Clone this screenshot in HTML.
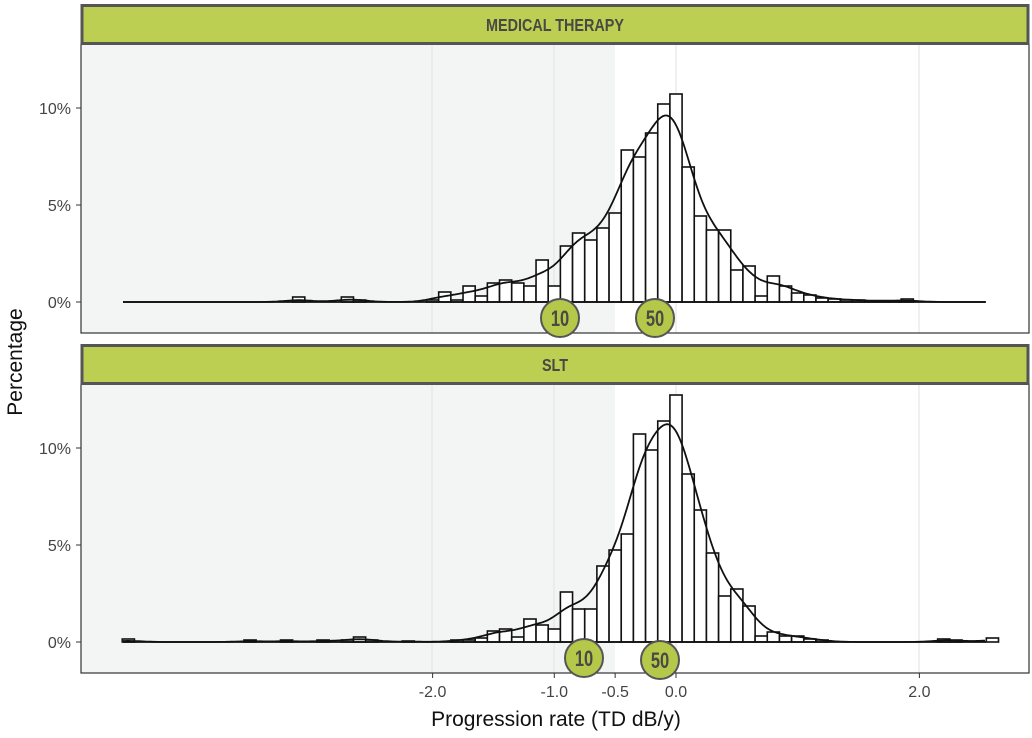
<!DOCTYPE html>
<html><head><meta charset="utf-8"><style>
body{margin:0;background:#fff;width:1032px;height:738px;overflow:hidden}
svg{display:block}
</style></head><body>
<svg id="s" width="1032" height="738" xmlns="http://www.w3.org/2000/svg" font-family="Liberation Sans, sans-serif"></svg>
<script>
const s=document.getElementById('s');let h='';
const X=v=>676+v*121.7;
function panel(top,title,base,bars,start,tailsL,tailsR,c1,c2){
 const ptop=top+40,pbot=top+329;
 h+=`<rect x="81" y="${ptop}" width="948" height="${pbot-ptop}" fill="#fff"/>`;
 h+=`<rect x="81" y="${ptop}" width="${615-81}" height="${pbot-ptop}" fill="#f3f5f5"/>`;
 [432,554,676,919].forEach(x=>h+=`<line x1="${x}" y1="${ptop}" x2="${x}" y2="${pbot}" stroke="#e4e6e6" stroke-width="1.2"/>`);
 let all={};
 tailsL.concat(tailsR).forEach(([v,ht])=>all[Math.round(v*10)]=ht);
 bars.forEach((ht,i)=>all[Math.round((start+0.1*i)*10)]=ht);
 const keys=Object.keys(all).map(Number).sort((a,b)=>a-b);
 keys.forEach(k=>{const ht=all[k];if(ht<=0)return;const x0=X(k/10-0.05);
  h+=`<rect x="${x0}" y="${base-ht}" width="12.17" height="${ht}" fill="#fff" stroke="#111" stroke-width="1.6"/>`;});
 const bw=0.115;let pts=[];
 for(let x=123;x<=986;x+=2){const v=(x-676)/121.7;let sum=0;
  keys.forEach(k=>{const d=(v-k/10)/bw;sum+=Math.exp(-d*d/2)*all[k];});
  let y=sum*0.1/(bw*Math.sqrt(2*Math.PI))*1.02;
  pts.push(`${x},${(base-y).toFixed(1)}`);}
 h+=`<line x1="123" y1="${base}" x2="986" y2="${base}" stroke="#111" stroke-width="1.8"/>`;
 h+=`<polyline points="${pts.join(' ')}" fill="none" stroke="#111" stroke-width="1.8"/>`;
 h+=`<rect x="81" y="${ptop}" width="948" height="${pbot-ptop}" fill="none" stroke="#333" stroke-width="1.2"/>`;
 h+=`<rect x="82" y="${top+1.5}" width="946" height="38" fill="#bccf52" stroke="#555" stroke-width="3"/>`;
 h+=`<text x="555" y="${top+27}" text-anchor="middle" font-size="18" font-weight="bold" fill="#4a4a44" transform="translate(555 0) scale(0.8 1) translate(-555 0)">${title}</text>`;
 [[0,'0%'],[5,'5%'],[10,'10%']].forEach(([p,l])=>{const y=base-p*19.4;
  h+=`<line x1="76" y1="${y}" x2="81" y2="${y}" stroke="#333"/><text x="71" y="${y+6}" text-anchor="end" font-size="16" fill="#444">${l}</text>`;});
 [c1,c2].forEach(([cx,cy,t])=>{h+=`<circle cx="${cx}" cy="${cy}" r="19" fill="#b5c84a" stroke="#555" stroke-width="2"/><text x="${cx}" y="${cy+8}" text-anchor="middle" font-size="22" font-weight="bold" fill="#4a4a44" transform="translate(${cx} 0) scale(0.75 1) translate(${-cx} 0)">${t}</text>`;});
}
panel(4,'MEDICAL THERAPY',302,
 [10,2,16,6,19,22,19,16,42,16,56,69,62,74,89,152,145,169,198,208,135,86,72,72,32,36,6,26,16,9,7,4,3,2,2,1,1,1,3],-1.9,
 [[-3.1,5],[-2.7,5],[-2.6,2],[-2.0,2]],[],[560,318,'10'],[655,318,'50']);
panel(344,'SLT',642,
 [4,11,13,5,23,17,13,50,33,33,76,92,108,208,192,221,247,168,132,89,46,53,36,6,10,6,6,3,2],-1.6,
 [[-4.5,3],[-3.5,2],[-3.2,2],[-2.9,2],[-2.7,2],[-2.6,5],[-2.5,2],[-2.2,1],[-1.8,2],[-1.7,2]],[[2.2,3],[2.3,2],[2.6,4]],[584,658,'10'],[660,660,'50']);
[[-2,'-2.0'],[-1,'-1.0'],[-0.5,'-0.5'],[0,'0.0'],[2,'2.0']].forEach(([v,l])=>{const x=X(v);
 h+=`<line x1="${x}" y1="673" x2="${x}" y2="678" stroke="#333"/><text x="${x}" y="697" text-anchor="middle" font-size="16" fill="#444">${l}</text>`;});
h+=`<text x="556" y="726" text-anchor="middle" font-size="21" fill="#111">Progression rate (TD dB/y)</text>`;
h+=`<text transform="translate(22 362) rotate(-90)" text-anchor="middle" font-size="21" fill="#111">Percentage</text>`;
s.innerHTML=h;
</script>
</body></html>
